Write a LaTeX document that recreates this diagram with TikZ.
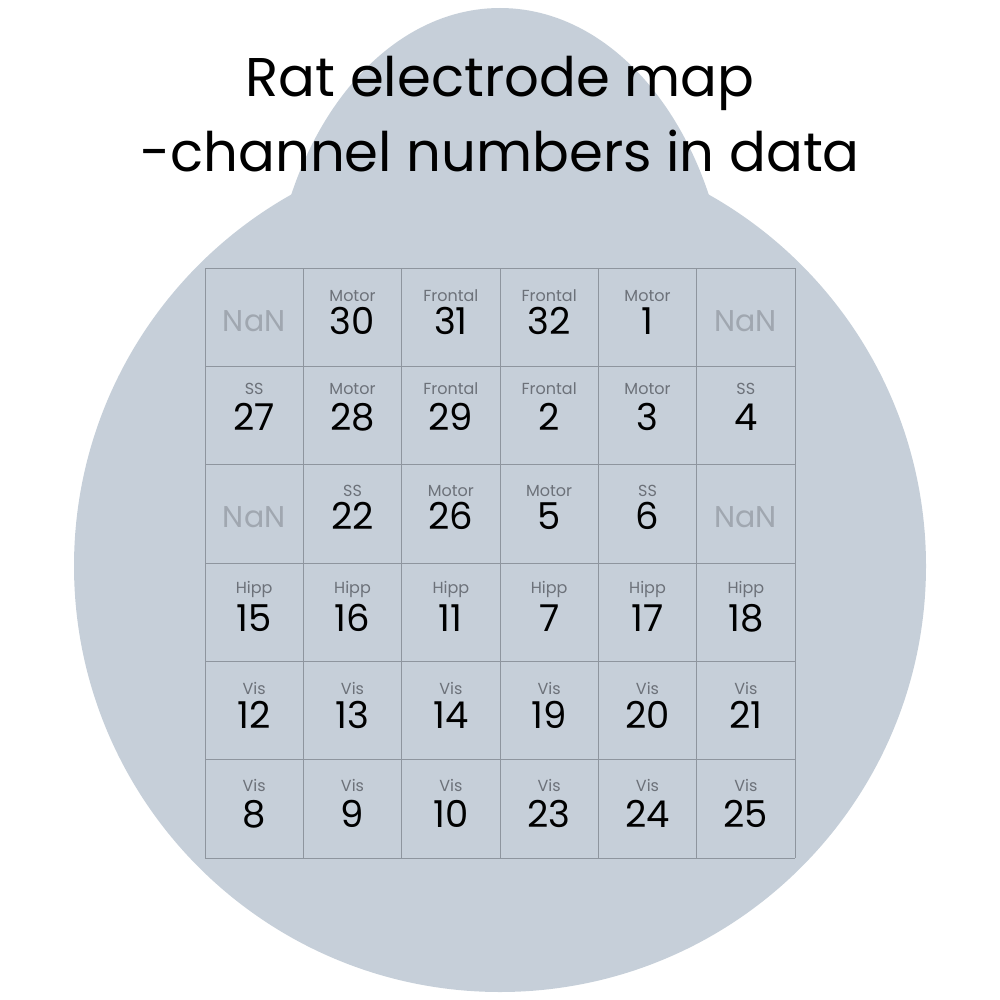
\documentclass[tikz,border=0pt]{standalone}
\usepackage{fontspec}
\setmainfont{Poppins}
\definecolor{headfill}{RGB}{198,207,217}
\definecolor{gridline}{RGB}{142,149,158}
\definecolor{labelgray}{RGB}{108,113,121}
\definecolor{nangray}{RGB}{160,167,176}
\newcommand{\labofs}{32}
\newcommand{\numofs}{66}
\newcommand{\ecell}[4]{%
  \node[lbl] (lab-#1-#2) at ({205+98.333*(#2+0.5)},{268+98.333*#1+\labofs}) {#3};
  \node[num] (num-#1-#2) at ({205+98.333*(#2+0.5)},{268+98.333*#1+\numofs}) {#4};}
\newcommand{\ncell}[2]{%
  \node[nan] (nan-#1-#2) at ({205+98.333*(#2+0.5)},{268+98.333*#1+63}) {NaN};}
\begin{document}
\begin{tikzpicture}[x=1pt,y=-1pt,
  lbl/.style={anchor=base,text=labelgray,font=\fontsize{16}{16}\selectfont,inner sep=0pt},
  num/.style={anchor=base,text=black,font=\fontsize{37}{37}\selectfont,inner sep=0pt},
  nan/.style={anchor=base,text=nangray,font=\fontsize{30}{30}\selectfont,inner sep=0pt},
  gridl/.style={draw=gridline,line width=0.9pt},
  titl/.style={font=\fontsize{54.5}{54.5}\selectfont,anchor=base,inner sep=0pt}]
\useasboundingbox (0,0) rectangle (1000,1000);
\fill[headfill] (500,330) ellipse [x radius=230, y radius=322];
\fill[headfill] (500,566) circle [radius=426];
\node[titl] (title1) at (500,97) {Rat electrode map};
\node[titl] (title2) at (500,172) {-channel numbers in data};
\foreach \i in {0,...,6} {
  \draw[gridl] ({205+98.333*\i},268) -- ({205+98.333*\i},858);
  \draw[gridl] (205,{268+98.333*\i}) -- (795,{268+98.333*\i});
}
% row 0
\renewcommand{\labofs}{33}\renewcommand{\numofs}{66}
\ncell{0}{0}
\ecell{0}{1}{Motor}{30}
\ecell{0}{2}{Frontal}{31}
\ecell{0}{3}{Frontal}{32}
\ecell{0}{4}{Motor}{1}
\ncell{0}{5}
% row 1
\renewcommand{\labofs}{28}\renewcommand{\numofs}{64}
\ecell{1}{0}{SS}{27}
\ecell{1}{1}{Motor}{28}
\ecell{1}{2}{Frontal}{29}
\ecell{1}{3}{Frontal}{2}
\ecell{1}{4}{Motor}{3}
\ecell{1}{5}{SS}{4}
% row 2
\renewcommand{\labofs}{32}\renewcommand{\numofs}{65}
\ncell{2}{0}
\ecell{2}{1}{SS}{22}
\ecell{2}{2}{Motor}{26}
\ecell{2}{3}{Motor}{5}
\ecell{2}{4}{SS}{6}
\ncell{2}{5}
% row 3
\renewcommand{\labofs}{30}\renewcommand{\numofs}{68}
\ecell{3}{0}{Hipp}{15}
\ecell{3}{1}{Hipp}{16}
\ecell{3}{2}{Hipp}{11}
\ecell{3}{3}{Hipp}{7}
\ecell{3}{4}{Hipp}{17}
\ecell{3}{5}{Hipp}{18}
% row 4
\renewcommand{\labofs}{33}\renewcommand{\numofs}{67}
\ecell{4}{0}{Vis}{12}
\ecell{4}{1}{Vis}{13}
\ecell{4}{2}{Vis}{14}
\ecell{4}{3}{Vis}{19}
\ecell{4}{4}{Vis}{20}
\ecell{4}{5}{Vis}{21}
% row 5
\renewcommand{\labofs}{32}\renewcommand{\numofs}{68}
\ecell{5}{0}{Vis}{8}
\ecell{5}{1}{Vis}{9}
\ecell{5}{2}{Vis}{10}
\ecell{5}{3}{Vis}{23}
\ecell{5}{4}{Vis}{24}
\ecell{5}{5}{Vis}{25}
\end{tikzpicture}
\end{document}
